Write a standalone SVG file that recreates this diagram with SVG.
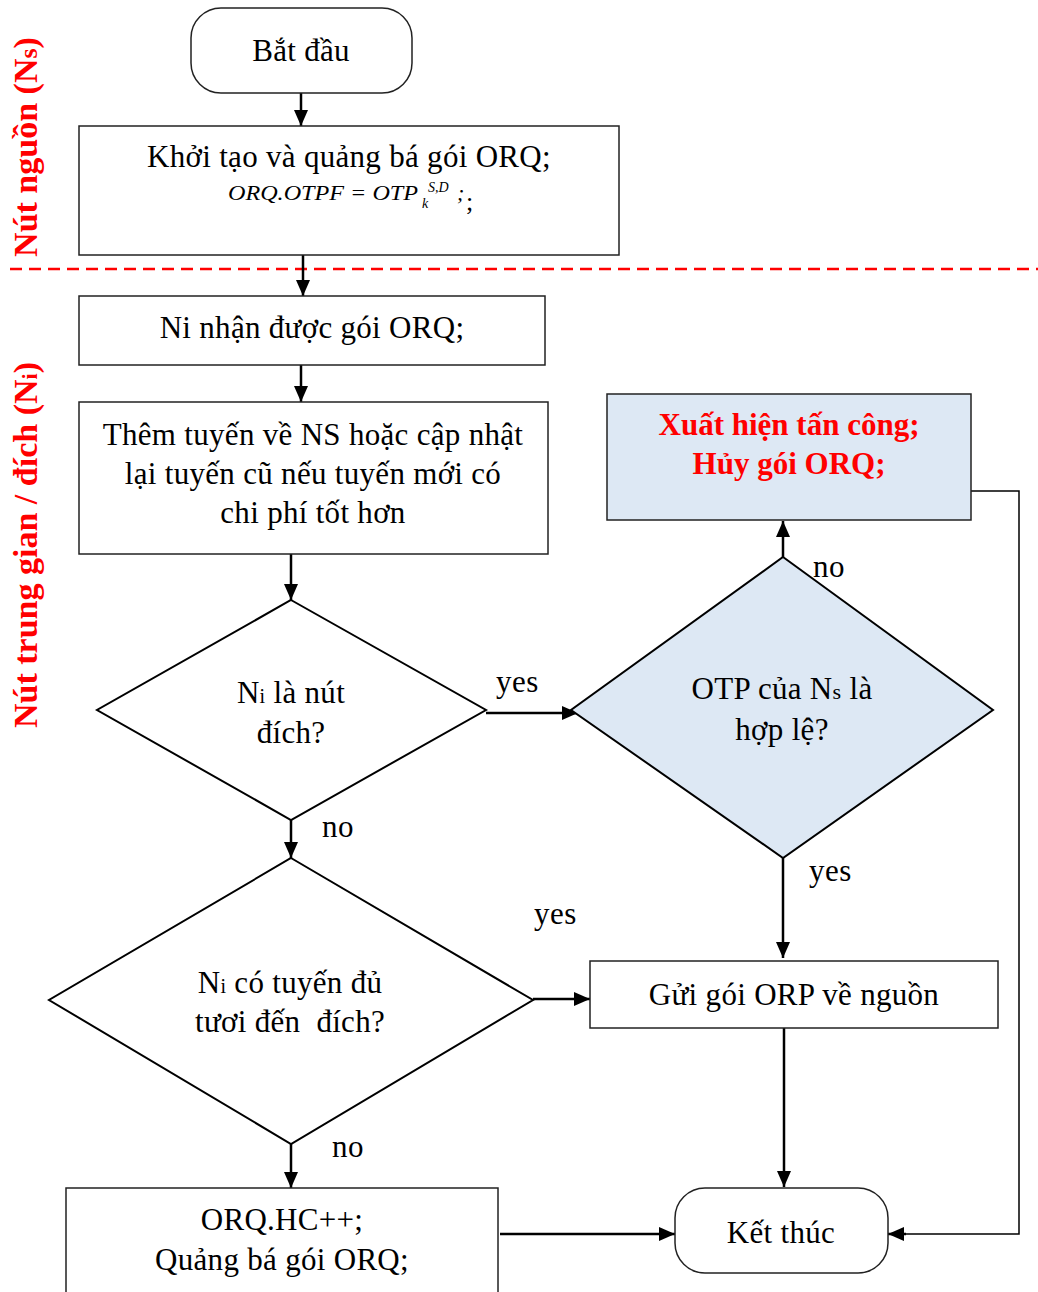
<svg xmlns="http://www.w3.org/2000/svg" width="1038" height="1292" viewBox="0 0 1038 1292">
  <defs>
    <marker id="arrow" viewBox="0 0 16 14" refX="16" refY="7" markerWidth="16" markerHeight="14" markerUnits="userSpaceOnUse" orient="auto">
      <path d="M0,0 L16,7 L0,14 z" fill="#000"/>
    </marker>
    <style>
      .box { fill: #fff; stroke: #222; stroke-width: 1.5; }
      .hl { fill: #dde8f4; stroke: #222; stroke-width: 1.5; }
      .dia { fill: #fff; stroke: #000; stroke-width: 2; }
      .dia-hl { fill: #dde8f4; stroke: #000; stroke-width: 2; }
      .t { font-family: "Liberation Serif", "DejaVu Serif", serif; font-size: 31px; letter-spacing: 0.3px; fill: #000; text-anchor: middle; }
      .lbl { font-family: "Liberation Serif", "DejaVu Serif", serif; font-size: 31px; letter-spacing: 0.5px; fill: #000; }
      .red { font-family: "Liberation Serif", "DejaVu Serif", serif; font-size: 31px; font-weight: bold; fill: #ff0000; text-anchor: middle; }
      .lane { font-family: "Liberation Serif", "DejaVu Serif", serif; font-size: 34px; font-weight: bold; fill: #ff0000; text-anchor: middle; }
      .math { font-family: "Liberation Serif", "DejaVu Serif", serif; font-style: italic; fill: #000; }
      .edge { fill: none; stroke: #000; stroke-width: 2.5; }
      .thin { fill: none; stroke: #000; stroke-width: 1.5; }
    </style>
  </defs>

  <rect width="1038" height="1292" fill="#fff"/>

  <!-- swimlane titles and separator -->
  <g id="lanes">
    <line x1="10" y1="269" x2="1038" y2="269" stroke="#ff0000" stroke-width="2.5" stroke-dasharray="12 7"/>
    <text class="lane" transform="translate(37 147) rotate(-90)">Nút nguồn (N<tspan font-size="26">s</tspan>)</text>
    <text class="lane" transform="translate(37 545) rotate(-90)">Nút trung gian / đích (N<tspan font-size="22">i</tspan>)</text>
  </g>

  <!-- connectors -->
  <g id="connectors">
    <line class="edge" x1="301" y1="93" x2="301" y2="126" marker-end="url(#arrow)"/>
    <line class="edge" x1="303" y1="255" x2="303" y2="296" marker-end="url(#arrow)"/>
    <line class="edge" x1="301" y1="365" x2="301" y2="402" marker-end="url(#arrow)"/>
    <line class="edge" x1="291" y1="554" x2="291" y2="600" marker-end="url(#arrow)"/>
    <line class="edge" x1="486" y1="713" x2="578" y2="713" marker-end="url(#arrow)"/>
    <line class="edge" x1="783" y1="557" x2="783" y2="521" marker-end="url(#arrow)"/>
    <line class="edge" x1="291" y1="820" x2="291" y2="858" marker-end="url(#arrow)"/>
    <line class="edge" x1="783" y1="858" x2="783" y2="958" marker-end="url(#arrow)"/>
    <line class="edge" x1="533" y1="999" x2="590" y2="999" marker-end="url(#arrow)"/>
    <line class="edge" x1="784" y1="1028" x2="784" y2="1187" marker-end="url(#arrow)"/>
    <line class="edge" x1="291" y1="1144" x2="291" y2="1188" marker-end="url(#arrow)"/>
    <line class="edge" x1="500" y1="1234" x2="675" y2="1234" marker-end="url(#arrow)"/>
    <polyline class="thin" points="971,491 1019,491 1019,1234 906,1234"/>
    <line class="edge" x1="906" y1="1234" x2="888" y2="1234" marker-end="url(#arrow)"/>

    <text class="lbl" x="496" y="692">yes</text>
    <text class="lbl" x="813" y="577">no</text>
    <text class="lbl" x="322" y="837">no</text>
    <text class="lbl" x="534" y="924">yes</text>
    <text class="lbl" x="809" y="881">yes</text>
    <text class="lbl" x="332" y="1157">no</text>
  </g>

  <!-- start -->
  <g id="start">
    <rect class="box" x="191" y="8" width="221" height="85" rx="30"/>
    <text class="t" x="301" y="61">Bắt đầu</text>
  </g>

  <!-- source node: create and broadcast ORQ -->
  <g id="init">
    <rect class="box" x="79" y="126" width="540" height="129"/>
    <text class="t" x="349" y="167">Khởi tạo và quảng bá gói ORQ;</text>
    <text class="math" x="228" y="200" font-size="22" textLength="190" lengthAdjust="spacingAndGlyphs">ORQ.OTPF = OTP</text>
    <text class="math" x="428" y="192" font-size="14">S,D</text>
    <text class="math" x="422" y="208" font-size="14">k</text>
    <text class="math" x="457" y="200" font-size="22">;</text>
    <text x="466" y="210" font-family="Liberation Serif, serif" font-size="26">;</text>
  </g>

  <!-- intermediate node receives ORQ -->
  <g id="receive">
    <rect class="box" x="79" y="296" width="466" height="69"/>
    <text class="t" x="312" y="338">Ni nhận được gói ORQ;</text>
  </g>

  <!-- route update -->
  <g id="update">
    <rect class="box" x="79" y="402" width="469" height="152"/>
    <text class="t" x="313" y="445">Thêm tuyến về NS hoặc cập nhật</text>
    <text class="t" x="313" y="484">lại tuyến cũ nếu tuyến mới có</text>
    <text class="t" x="313" y="523">chi phí tốt hơn</text>
  </g>

  <!-- decision: destination? -->
  <g id="is-dest">
    <polygon class="dia" points="291,600 486,710 291,820 97,710"/>
    <text class="t" x="291" y="703">N<tspan font-size="20">i</tspan> là nút</text>
    <text class="t" x="291" y="743">đích?</text>
  </g>

  <!-- decision: OTP valid? -->
  <g id="otp-valid">
    <polygon class="dia-hl" points="783,557 993,710 783,858 571,710"/>
    <text class="t" x="782" y="699">OTP của N<tspan font-size="22">s</tspan> là</text>
    <text class="t" x="782" y="740">hợp lệ?</text>
  </g>

  <!-- attack detected -->
  <g id="attack">
    <rect class="hl" x="607" y="394" width="364" height="126"/>
    <text class="red" x="789" y="435">Xuất hiện tấn công;</text>
    <text class="red" x="789" y="474">Hủy gói ORQ;</text>
  </g>

  <!-- decision: fresh route? -->
  <g id="fresh-route">
    <polygon class="dia" points="291,858 533,1000 291,1144 49,1000"/>
    <text class="t" x="290" y="993">N<tspan font-size="20">i</tspan> có tuyến đủ</text>
    <text class="t" x="290" y="1032" xml:space="preserve">tươi đến  đích?</text>
  </g>

  <!-- send ORP -->
  <g id="send-orp">
    <rect class="box" x="590" y="961" width="408" height="67"/>
    <text class="t" x="794" y="1005">Gửi gói ORP về nguồn</text>
  </g>

  <!-- rebroadcast -->
  <g id="rebroadcast">
    <rect class="box" x="66" y="1188" width="432" height="110"/>
    <text class="t" x="282" y="1230">ORQ.HC++;</text>
    <text class="t" x="282" y="1270">Quảng bá gói ORQ;</text>
  </g>

  <!-- end -->
  <g id="end">
    <rect class="box" x="675" y="1188" width="213" height="85" rx="30"/>
    <text class="t" x="781" y="1243">Kết thúc</text>
  </g>
</svg>
